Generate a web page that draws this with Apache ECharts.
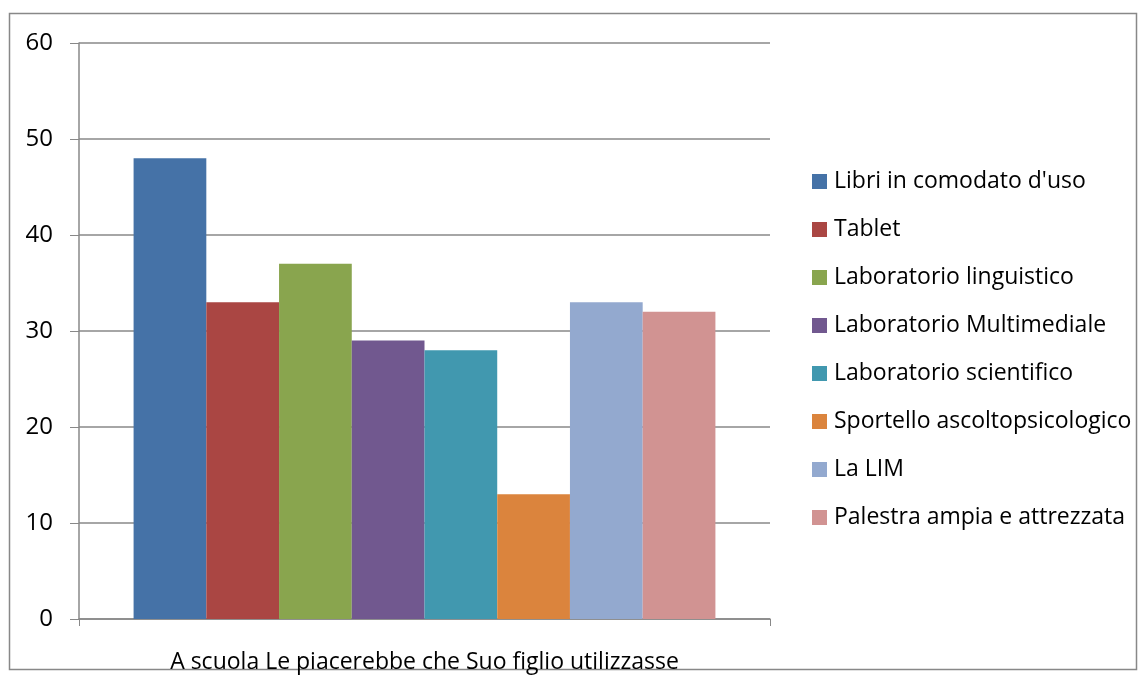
<!DOCTYPE html>
<html><head><meta charset="utf-8">
<script src="https://cdn.jsdelivr.net/npm/echarts@6/dist/echarts.min.js"></script>
<style>html,body{margin:0;padding:0;background:#fff}#c{width:1147px;height:680px}</style>
</head><body><div id="c"></div>
<script>
const categories = ["A scuola Le piacerebbe che Suo figlio utilizzasse"];
const seriesNames = ["Libri in comodato d'uso","Tablet","Laboratorio linguistico","Laboratorio Multimediale","Laboratorio scientifico","Sportello ascoltopsicologico","La LIM","Palestra ampia e attrezzata"];
const seriesValues = [[48],[33],[37],[29],[28],[13],[33],[32]];
const colors = ["#4572A7","#AA4643","#89A54E","#71588F","#4198AF","#DB843D","#93A9CF","#D19392"];
const yTicks = [0,10,20,30,40,50,60];

const chart = echarts.init(document.getElementById('c'));
const font = "'Open Sans', sans-serif";
chart.setOption({
  animation:false,
  color: colors,
  graphic:[{type:'rect',shape:{x:9.5,y:13.5,width:1127,height:656},style:{fill:'none',stroke:'#888',lineWidth:1.5},silent:true}],
  grid:{left:79,right:377,top:43,bottom:61,containLabel:false},
  legend:{
    orient:'vertical', left:812, top:170, itemWidth:15, itemHeight:15, itemGap:25,
    icon:'rect', padding:0,
    textStyle:{fontFamily:font,fontSize:23,lineHeight:23,color:'#000',padding:[0,0,0,2]},
    data: seriesNames
  },
  xAxis:{type:'category',data:categories,
    axisLine:{lineStyle:{color:'#888',width:1.5}},
    axisTick:{show:true,alignWithLabel:false,length:7,lineStyle:{color:'#888'}},
    axisLabel:{fontFamily:font,fontSize:23,color:'#000',margin:32}},
  yAxis:{type:'value',min:0,max:60,interval:10,
    axisLine:{show:true,lineStyle:{color:'#888',width:1.5}},
    axisTick:{show:true,length:9,lineStyle:{color:'#888'}},
    splitLine:{lineStyle:{color:'#888',width:1.5}},
    axisLabel:{fontFamily:font,fontSize:24,color:'#000',margin:26,
      formatter:v=>yTicks.includes(v)?String(v):''}},
  series: seriesNames.map((n,i)=>({name:n,type:'bar',data:seriesValues[i],barGap:'0%',barCategoryGap:'15.8%'}))
});
</script></body></html>
